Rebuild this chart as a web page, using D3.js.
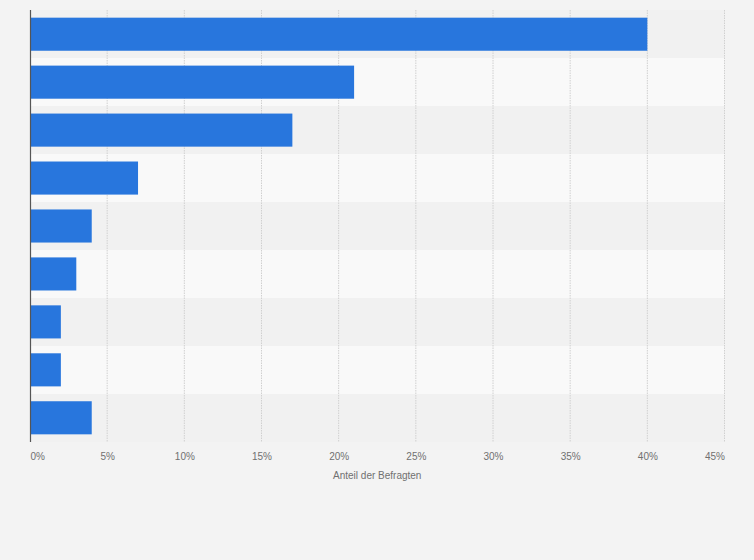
<!DOCTYPE html>
<html>
<head>
<meta charset="utf-8">
<script src="https://cdn.jsdelivr.net/npm/d3@7"></script>
<style>
  html, body { margin: 0; padding: 0; background: #f3f3f3; }
  svg { display: block; font-family: "Liberation Sans", Arial, sans-serif; }
</style>
</head>
<body>
<svg id="chart" width="754" height="560"></svg>
<script>
const categories = ["Kategorie 1", "Kategorie 2", "Kategorie 3", "Kategorie 4", "Kategorie 5", "Kategorie 6", "Kategorie 7", "Kategorie 8", "Kategorie 9"];
const values = [40, 21, 17, 7, 4, 3, 2, 2, 4];
const tickValues = [0, 5, 10, 15, 20, 25, 30, 35, 40, 45];
const axisTitle = "Anteil der Befragten";

const W = 754, H = 560;
const m = { left: 30, right: 29.5, top: 10, bottom: 118 };
const svg = d3.select("#chart");

svg.append("rect").attr("width", W).attr("height", H).attr("fill", "#f3f3f3");

const x = d3.scaleLinear().domain([0, 45]).range([m.left, W - m.right]);
const rows = d3.scaleBand().domain(categories).range([m.top, H - m.bottom]).padding(0);
const y = d3.scaleBand().domain(categories).range([m.top, H - m.bottom]).paddingInner(0.31).paddingOuter(0.16);

// alternating row bands
svg.append("g").selectAll("rect").data(categories).join("rect")
  .attr("x", m.left).attr("width", x(45) - m.left)
  .attr("y", d => rows(d)).attr("height", rows.bandwidth())
  .attr("fill", (d, i) => i % 2 === 0 ? "#f1f1f1" : "#f9f9f9");

// gridlines
svg.append("g").selectAll("line").data(tickValues.slice(1)).join("line")
  .attr("x1", d => x(d)).attr("x2", d => x(d))
  .attr("y1", m.top).attr("y2", H - m.bottom)
  .attr("stroke", "#d0d0d0").attr("stroke-width", 1)
  .attr("stroke-dasharray", "1.5,1");

// bars
svg.append("g").selectAll("rect").data(values).join("rect")
  .attr("x", x(0))
  .attr("y", (d, i) => y(categories[i]))
  .attr("width", d => x(d) - x(0))
  .attr("height", y.bandwidth())
  .attr("fill", "#2876dd");

// left axis line
svg.append("line")
  .attr("x1", m.left + 0.5).attr("x2", m.left + 0.5)
  .attr("y1", m.top).attr("y2", H - m.bottom)
  .attr("stroke", "#555").attr("stroke-width", 1.2);

// x axis tick labels
const xAxis = d3.axisBottom(x).tickValues(tickValues).tickSize(0).tickPadding(0)
  .tickFormat(d => d + "%");
const gx = svg.append("g").attr("transform", `translate(0,${H - m.bottom + 11})`).call(xAxis);
gx.select(".domain").remove();
gx.selectAll("text")
  .attr("fill", "#707070").attr("font-size", "10px")
  .attr("font-family", "Liberation Sans, Arial, sans-serif")
  .attr("dy", "0.71em")
  .attr("text-anchor", (d, i) => i === 0 ? "start" : (i === tickValues.length - 1 ? "end" : "middle"));

// axis title
svg.append("text")
  .attr("x", (x(0) + x(45)) / 2 + 0)
  .attr("y", 479)
  .attr("text-anchor", "middle")
  .attr("fill", "#707070").attr("font-size", "10px")
  .text(axisTitle);
</script>
</body>
</html>
